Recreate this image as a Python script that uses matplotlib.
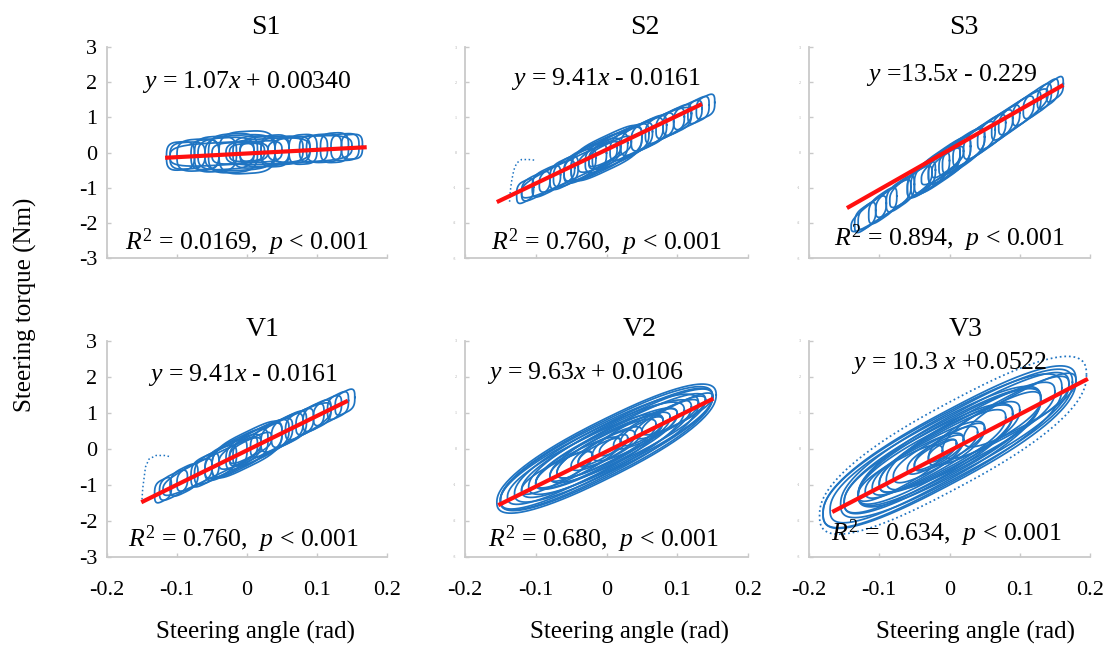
import numpy as np
import matplotlib
matplotlib.use("Agg")
import matplotlib.pyplot as plt

SERIF = 'Liberation Serif'
plt.rcParams['font.family'] = 'serif'
plt.rcParams['font.serif'] = [SERIF, 'DejaVu Serif']
plt.rcParams['mathtext.fontset'] = 'custom'
plt.rcParams['mathtext.rm'] = SERIF
plt.rcParams['mathtext.it'] = SERIF + ':italic'

# ---------------- data ----------------
panel_names = ["S1", "S2", "S3", "V1", "V2", "V3"]
equations = [r"$y$ = 1.07$x$ + 0.00340", r"$y$ = 9.41$x$ - 0.0161", r"$y$ =13.5$x$ - 0.229",
             r"$y$ = 9.41$x$ - 0.0161", r"$y$ = 9.63$x$ + 0.0106", r"$y$ = 10.3 $x$ +0.0522"]
stats = [r"$R^2$ = 0.0169,  $p$ < 0.001", r"$R^2$ = 0.760,  $p$ < 0.001", r"$R^2$ = 0.894,  $p$ < 0.001",
         r"$R^2$ = 0.760,  $p$ < 0.001", r"$R^2$ = 0.680,  $p$ < 0.001", r"$R^2$ = 0.634,  $p$ < 0.001"]
slopes = [1.07, 9.41, 13.5, 9.41, 9.63, 10.3]
intercepts = [0.0034, -0.0161, -0.229, -0.0161, 0.0106, 0.0522]

# red fitted line end points as drawn
line_x0 = [-0.117, -0.155, -0.146, -0.151, -0.153, -0.167]
line_x1 = [0.171, 0.135, 0.162, 0.144, 0.151, 0.197]
line_y0 = [-0.15, -1.41, -1.58, -1.48, -1.56, -1.75]
line_y1 = [0.15, 1.38, 1.92, 1.34, 1.40, 1.95]

# loops: centre angle, half range of angle, half torque band
S1_cx = [-0.095, -0.085, -0.07, -0.06, -0.045, -0.03, -0.02, -0.01, 0.0, 0.01, 0.025, 0.04,
         0.05, 0.065, 0.08, 0.095, 0.11, 0.125, 0.14, 0.15, -0.04, 0.03, 0.09, -0.02, 0.0, 0.02]
S1_ax = [0.02, 0.025, 0.03, 0.02, 0.03, 0.04, 0.035, 0.05, 0.04, 0.03, 0.035, 0.02,
         0.03, 0.025, 0.02, 0.02, 0.025, 0.02, 0.02, 0.015, 0.07, 0.06, 0.06, 0.03, 0.025, 0.03]
S1_h = [0.4, 0.38, 0.45, 0.42, 0.5, 0.45, 0.55, 0.5, 0.6, 0.45, 0.42, 0.45,
        0.4, 0.38, 0.42, 0.38, 0.4, 0.42, 0.38, 0.35, 0.32, 0.36, 0.36, 0.3, 0.25, 0.3]

S2_cx = [-0.115, -0.10, -0.085, -0.07, -0.06, -0.045, -0.03, -0.02, -0.01, 0.0, 0.01, 0.02,
         0.035, 0.05, 0.06, 0.075, 0.09, 0.10, 0.115, 0.13, 0.14, -0.05, 0.04, -0.005, 0.005]
S2_ax = [0.012, 0.02, 0.02, 0.025, 0.02, 0.03, 0.03, 0.04, 0.04, 0.05, 0.04, 0.04,
         0.03, 0.03, 0.025, 0.02, 0.02, 0.02, 0.02, 0.015, 0.013, 0.07, 0.08, 0.02, 0.03]
S2_h = [0.3, 0.32, 0.35, 0.32, 0.38, 0.38, 0.42, 0.38, 0.45, 0.5, 0.42, 0.42,
        0.38, 0.38, 0.38, 0.34, 0.34, 0.34, 0.32, 0.32, 0.3, 0.3, 0.35, 0.3, 0.25]

S3_cx = [-0.12, -0.11, -0.095, -0.08, -0.07, -0.055, -0.04, -0.03, -0.02, -0.01, 0.0, 0.01,
         0.02, 0.035, 0.05, 0.065, 0.08, 0.095, 0.11, 0.125, 0.14, 0.15, -0.06, 0.05, 0.0, -0.005]
S3_ax = [0.015, 0.02, 0.02, 0.025, 0.02, 0.03, 0.02, 0.03, 0.035, 0.04, 0.03, 0.04,
         0.03, 0.03, 0.03, 0.025, 0.02, 0.025, 0.02, 0.02, 0.015, 0.012, 0.08, 0.09, 0.015, 0.02]
S3_h = [0.32, 0.32, 0.36, 0.32, 0.36, 0.32, 0.36, 0.4, 0.42, 0.45, 0.42, 0.42,
        0.38, 0.38, 0.38, 0.36, 0.34, 0.34, 0.34, 0.34, 0.32, 0.28, 0.32, 0.36, 0.3, 0.25]

V1_cx = [-0.12, -0.105, -0.09, -0.075, -0.06, -0.045, -0.03, -0.02, -0.01, 0.0, 0.01, 0.02,
         0.035, 0.05, 0.06, 0.075, 0.09, 0.10, 0.115, 0.13, 0.14, -0.05, 0.04, -0.005, 0.005]
V1_ax = [0.012, 0.02, 0.02, 0.025, 0.02, 0.03, 0.03, 0.04, 0.04, 0.05, 0.04, 0.04,
         0.03, 0.03, 0.025, 0.02, 0.02, 0.02, 0.02, 0.015, 0.014, 0.07, 0.08, 0.02, 0.03]
V1_h = [0.3, 0.32, 0.35, 0.32, 0.38, 0.38, 0.42, 0.38, 0.45, 0.5, 0.42, 0.42,
        0.38, 0.38, 0.38, 0.34, 0.34, 0.34, 0.32, 0.32, 0.3, 0.3, 0.35, 0.3, 0.25]

V2_cx = [0.0, 0.0, -0.01, 0.01, -0.02, 0.02, 0.0, -0.03, 0.03, 0.0, -0.01, 0.01, 0.0,
         0.04, -0.04, 0.0, 0.0, 0.05, -0.05, 0.07, 0.09, -0.07, 0.1, -0.01, 0.01]
V2_ax = [0.155, 0.15, 0.14, 0.14, 0.13, 0.13, 0.12, 0.11, 0.11, 0.10, 0.09, 0.08, 0.07,
         0.06, 0.06, 0.05, 0.04, 0.03, 0.03, 0.06, 0.05, 0.05, 0.05, 0.03, 0.02]
V2_h = [0.85, 0.8, 0.75, 0.7, 0.68, 0.64, 0.6, 0.58, 0.54, 0.5, 0.46, 0.42, 0.4,
        0.38, 0.35, 0.32, 0.3, 0.25, 0.28, 0.32, 0.3, 0.3, 0.28, 0.22, 0.2]

V3_cx = [0.005, 0.0, -0.01, 0.01, -0.02, 0.02, -0.01, 0.0, -0.03, 0.03, -0.02, 0.0,
         -0.01, -0.03, 0.05, -0.05, -0.02, 0.0, -0.02, 0.08, 0.1, -0.07, -0.02, -0.01]
V3_ax = [0.19, 0.18, 0.17, 0.165, 0.15, 0.15, 0.14, 0.13, 0.12, 0.12, 0.11, 0.10,
         0.09, 0.08, 0.08, 0.07, 0.06, 0.05, 0.04, 0.09, 0.08, 0.06, 0.03, 0.02]
V3_h = [1.25, 1.05, 1.0, 0.95, 0.9, 0.85, 0.8, 0.75, 0.72, 0.68, 0.64, 0.6,
        0.55, 0.5, 0.5, 0.45, 0.4, 0.35, 0.3, 0.55, 0.5, 0.4, 0.25, 0.2]

loop_cx = [S1_cx, S2_cx, S3_cx, V1_cx, V2_cx, V3_cx]
loop_ax = [S1_ax, S2_ax, S3_ax, V1_ax, V2_ax, V3_ax]
loop_h = [S1_h, S2_h, S3_h, V1_h, V2_h, V3_h]

# outlier trace on the left (S2, V1)
S2_out_x = [-0.137, -0.136, -0.134, -0.131, -0.127, -0.12, -0.11, -0.10]
S2_out_y = [-1.40, -1.10, -0.80, -0.50, -0.30, -0.20, -0.20, -0.22]
V1_out_x = [-0.150, -0.149, -0.147, -0.145, -0.140, -0.130, -0.118, -0.108]
V1_out_y = [-1.40, -1.10, -0.80, -0.50, -0.28, -0.18, -0.18, -0.22]

x_ticks = [-0.2, -0.1, 0, 0.1, 0.2]
x_ticklabels = ["-0.2", "-0.1", "0", "0.1", "0.2"]
y_ticks = [-3, -2, -1, 0, 1, 2, 3]
y_ticklabels = ["-3", "-2", "-1", "0", "1", "2", "3"]

# ---------------- layout ----------------
W, H = 1116, 651
fig = plt.figure(figsize=(W / 100, H / 100), dpi=100)
col_l = [107, 465, 809]
col_w = [280, 283, 281]
row_t = [47, 341]
row_b = [258, 557]
title_x = [[266, 645, 964], [263, 640, 966]]
title_y = [28, 329]
loop_shape = [0.6, 0.6, 0.6, 0.6, 0.85, 0.8]
eq_pos = [(0.0, 2.0), (0.0, 2.1), (0.003, 2.2), (-0.006, 2.05), (-0.03, 2.1), (0.0, 2.4)]
st_pos = [(0.0, -2.55), (0.0, -2.55), (0.0, -2.45), (-0.006, -2.5), (-0.005, -2.5), (-0.005, -2.35)]

blue = '#1f74c2'
red = '#ff1010'
spine_c = '#c9c9c9'

t = np.linspace(0, 2 * np.pi, 240)

for i, name in enumerate(panel_names):
    r, c = divmod(i, 3)
    ax = fig.add_axes([col_l[c] / W, 1 - row_b[r] / H, col_w[c] / W, (row_b[r] - row_t[r]) / H])
    ax.set_xlim(-0.2, 0.2)
    ax.set_ylim(-3, 3)
    for s in ['top', 'right']:
        ax.spines[s].set_visible(False)
    for s in ['left', 'bottom']:
        ax.spines[s].set_color(spine_c)
        ax.spines[s].set_linewidth(1.3)
    ax.tick_params(direction='in', length=3, color=spine_c, width=1)
    ax.set_xticks(x_ticks)
    ax.set_yticks(y_ticks)
    if r == 1:
        ax.set_xticklabels(x_ticklabels, fontsize=16, family=SERIF)
        ax.tick_params(axis='x', pad=17)
    else:
        ax.set_xticklabels([])
    if c == 0:
        ax.set_yticklabels(y_ticklabels, fontsize=16, family=SERIF)
        ax.tick_params(axis='y', pad=7)
    else:
        ax.set_yticklabels(y_ticklabels, fontsize=3, color='#aaaaaa', family=SERIF)
        ax.tick_params(axis='y', pad=6)

    p = loop_shape[i]
    m, b = slopes[i], intercepts[i]
    cs = np.cos(t)
    sn = np.sin(t)
    cs = np.sign(cs) * np.abs(cs) ** p
    sn = np.sign(sn) * np.abs(sn) ** p
    for k, (cx, a, h) in enumerate(zip(loop_cx[i], loop_ax[i], loop_h[i])):
        x = cx + a * cs
        y = m * x + b + h * sn
        ls = ':' if (name == 'V3' and k == 0) else '-'
        ax.plot(x, y, color=blue, lw=1.25, ls=ls)
    if name == 'S2':
        ax.plot(S2_out_x, S2_out_y, color=blue, lw=1.1, ls=':')
    if name == 'V1':
        ax.plot(V1_out_x, V1_out_y, color=blue, lw=1.1, ls=':')

    ax.plot([line_x0[i], line_x1[i]], [line_y0[i], line_y1[i]], color=red, lw=3, solid_capstyle='butt')

    ax.text(eq_pos[i][0], eq_pos[i][1], equations[i], fontsize=18.5, ha='center', va='center', family=SERIF)
    ax.text(st_pos[i][0], st_pos[i][1], stats[i], fontsize=18.5, ha='center', va='center', family=SERIF)

    fig.text(title_x[r][c] / W, 1 - title_y[r] / H, name, fontsize=20, ha='center', va='center', family=SERIF)

fig.text(25 / W, 1 - 305 / H, "Steering torque (Nm)", rotation=90, fontsize=18, ha='center', va='center',
         family=SERIF)
for xl in [255, 629, 975]:
    fig.text(xl / W, 1 - 632 / H, "Steering angle (rad)", fontsize=18, ha='center', va='center', family=SERIF)

fig.savefig("out.png", dpi=100)
